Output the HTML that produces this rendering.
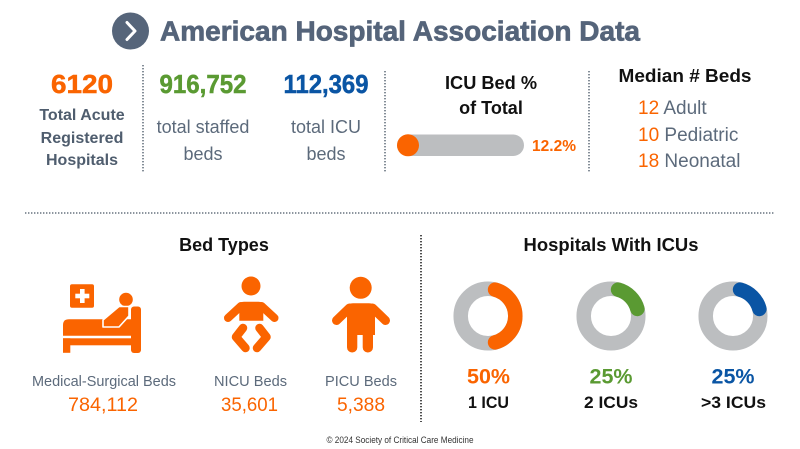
<!DOCTYPE html>
<html>
<head>
<meta charset="utf-8">
<style>
html,body{margin:0;padding:0;background:#fff;}
svg{display:block;}
text{font-family:"Liberation Sans",Arial,sans-serif;}
</style>
</head>
<body>
<svg width="800" height="449" viewBox="0 0 800 449" xmlns="http://www.w3.org/2000/svg">
<rect width="800" height="449" fill="#fff"/>

<!-- Header -->
<circle cx="130.5" cy="31" r="18.5" fill="#56657a"/>
<polyline points="127,22.5 135,31 127,39.5" fill="none" stroke="#fff" stroke-width="3" stroke-linecap="round" stroke-linejoin="round"/>
<text x="160" y="40.5" font-size="28" font-weight="bold" fill="#55647a" stroke="#55647a" stroke-width="0.7" textLength="480" lengthAdjust="spacingAndGlyphs">American Hospital Association Data</text>

<!-- Top stats -->
<text x="82" y="93" font-size="26" font-weight="bold" fill="#fa6400" stroke="#fa6400" stroke-width="0.5" text-anchor="middle" textLength="62" lengthAdjust="spacingAndGlyphs">6120</text>
<g font-size="16" font-weight="bold" fill="#4f5d6e" text-anchor="middle">
<text x="82" y="120">Total Acute</text>
<text x="82" y="143">Registered</text>
<text x="82" y="165">Hospitals</text>
</g>

<line x1="143" y1="65" x2="143" y2="172" stroke="#66727f" stroke-width="1.6" stroke-dasharray="1.4 1.6"/>

<text x="203" y="93" font-size="26" font-weight="bold" fill="#5a9a32" stroke="#5a9a32" stroke-width="0.5" text-anchor="middle" textLength="87" lengthAdjust="spacingAndGlyphs">916,752</text>
<text x="203" y="133" font-size="18" fill="#5c6a7b" text-anchor="middle">total staffed</text>
<text x="203" y="160" font-size="18" fill="#5c6a7b" text-anchor="middle">beds</text>

<text x="326" y="93" font-size="26" font-weight="bold" fill="#0a55a4" stroke="#0a55a4" stroke-width="0.5" text-anchor="middle" textLength="85" lengthAdjust="spacingAndGlyphs">112,369</text>
<text x="326" y="133" font-size="18" fill="#5c6a7b" text-anchor="middle">total ICU</text>
<text x="326" y="160" font-size="18" fill="#5c6a7b" text-anchor="middle">beds</text>

<line x1="385" y1="71" x2="385" y2="172" stroke="#66727f" stroke-width="1.6" stroke-dasharray="1.4 1.6"/>

<text x="491" y="89" font-size="18" font-weight="bold" fill="#111" text-anchor="middle" textLength="92" lengthAdjust="spacingAndGlyphs">ICU Bed %</text>
<text x="491" y="114" font-size="18" font-weight="bold" fill="#111" text-anchor="middle">of Total</text>
<rect x="397" y="134.5" width="127" height="21.5" rx="10.75" fill="#bcbec0"/>
<circle cx="408" cy="145.3" r="11" fill="#fa6400"/>
<text x="532" y="151" font-size="15.5" font-weight="bold" fill="#fa6400" textLength="44" lengthAdjust="spacingAndGlyphs">12.2%</text>

<line x1="589" y1="71" x2="589" y2="172" stroke="#66727f" stroke-width="1.6" stroke-dasharray="1.4 1.6"/>

<text x="685" y="82" font-size="18" font-weight="bold" fill="#111" text-anchor="middle" textLength="133" lengthAdjust="spacingAndGlyphs">Median # Beds</text>
<g font-size="19">
<text x="638" y="114"><tspan fill="#fa6400">12</tspan><tspan fill="#5c6a7b"> Adult</tspan></text>
<text x="638" y="141"><tspan fill="#fa6400">10</tspan><tspan fill="#5c6a7b"> Pediatric</tspan></text>
<text x="638" y="167"><tspan fill="#fa6400">18</tspan><tspan fill="#5c6a7b"> Neonatal</tspan></text>
</g>

<!-- horizontal divider -->
<line x1="25" y1="213" x2="775" y2="213" stroke="#66727f" stroke-width="1.6" stroke-dasharray="1.4 1.6"/>

<!-- Bottom left: Bed Types -->
<text x="224" y="251" font-size="18" font-weight="bold" fill="#111" text-anchor="middle">Bed Types</text>

<!-- Bed icon -->
<g fill="#fa6400">
  <rect x="70" y="284.3" width="24" height="23.5" rx="2"/>
  <rect x="80" y="289" width="4.6" height="14" fill="#fff"/>
  <rect x="75.3" y="293.7" width="14" height="4.6" fill="#fff"/>
  <circle cx="126" cy="299.5" r="6.8"/>
  <rect x="131" y="306.5" width="10" height="46.5" rx="3"/>
  <path d="M63,335.7 L63,325 Q63,319.3 69,319.3 L131,319.3 L131,335.7 Z"/>
  <path d="M103,320 L119,306.5 L129,306.5 L129,316 L119,327 L103,327 Z" stroke="#fff" stroke-width="1.6" stroke-linejoin="round"/>
  <rect x="63" y="338.3" width="78" height="7"/>
  <rect x="63" y="338.3" width="7.3" height="14.5"/>
</g>

<!-- Baby icon -->
<g fill="#fa6400">
  <circle cx="251" cy="286" r="9.5"/>
  <path d="M239.3,320.7 L239.3,306 Q239.3,301.7 244,301.7 L258.5,301.7 Q263.3,301.7 263.3,306 L263.3,320.7 Z"/>
  <line x1="241" y1="306" x2="228" y2="318" stroke="#fa6400" stroke-width="8" stroke-linecap="round"/>
  <line x1="261.5" y1="306" x2="274.5" y2="318" stroke="#fa6400" stroke-width="8" stroke-linecap="round"/>
  <polyline points="243,328 236,337 245.5,348" fill="none" stroke="#fa6400" stroke-width="8.5" stroke-linecap="round" stroke-linejoin="round"/>
  <polyline points="259.5,328 266.5,337 257,348" fill="none" stroke="#fa6400" stroke-width="8.5" stroke-linecap="round" stroke-linejoin="round"/>
</g>

<!-- Child icon -->
<g fill="#fa6400">
  <circle cx="360.7" cy="287.8" r="11"/>
  <path d="M347,335 L347,309 Q347,303.3 353,303.3 L369,303.3 Q375,303.3 375,309 L375,335 Z"/>
  <line x1="349.5" y1="308" x2="336.5" y2="320.5" stroke="#fa6400" stroke-width="9" stroke-linecap="round"/>
  <line x1="372.5" y1="308" x2="385.5" y2="320.5" stroke="#fa6400" stroke-width="9" stroke-linecap="round"/>
  <rect x="347" y="322" width="10.3" height="30.5" rx="5.1"/>
  <rect x="362.7" y="322" width="10.3" height="30.5" rx="5.1"/>
</g>

<g font-size="15" fill="#5c6a7b" text-anchor="middle">
<text x="104" y="386" textLength="144" lengthAdjust="spacingAndGlyphs">Medical-Surgical Beds</text>
<text x="250.5" y="386" textLength="73" lengthAdjust="spacingAndGlyphs">NICU Beds</text>
<text x="361" y="386" textLength="72" lengthAdjust="spacingAndGlyphs">PICU Beds</text>
</g>
<g font-size="19.5" fill="#fa6400" text-anchor="middle">
<text x="103" y="411" textLength="70" lengthAdjust="spacingAndGlyphs">784,112</text>
<text x="249.5" y="411" textLength="57" lengthAdjust="spacingAndGlyphs">35,601</text>
<text x="361" y="411" textLength="48" lengthAdjust="spacingAndGlyphs">5,388</text>
</g>

<!-- bottom vertical divider -->
<line x1="421" y1="235" x2="421" y2="422" stroke="#222" stroke-width="1.6" stroke-dasharray="1.4 1.6"/>

<!-- Hospitals With ICUs -->
<text x="611" y="251" font-size="18" font-weight="bold" fill="#111" text-anchor="middle" textLength="175" lengthAdjust="spacingAndGlyphs">Hospitals With ICUs</text>

<g fill="none" stroke-width="14.5">
  <circle cx="488" cy="316" r="27.3" stroke="#bcbec0"/>
  <path d="M495.07,289.63 A27.3,27.3 0 0 1 495.07,342.37" stroke="#fa6400" stroke-linecap="round"/>
  <circle cx="611" cy="316" r="27.3" stroke="#bcbec0"/>
  <path d="M618.07,289.63 A27.3,27.3 0 0 1 637.37,308.93" stroke="#5a9a32" stroke-linecap="round"/>
  <circle cx="733" cy="316" r="27.3" stroke="#bcbec0"/>
  <path d="M740.07,289.63 A27.3,27.3 0 0 1 759.37,308.93" stroke="#0a55a4" stroke-linecap="round"/>
</g>

<g font-size="21" font-weight="bold" text-anchor="middle">
<text x="488.5" y="383.5" fill="#fa6400" textLength="43" lengthAdjust="spacingAndGlyphs">50%</text>
<text x="611" y="383.5" fill="#5a9a32" textLength="43" lengthAdjust="spacingAndGlyphs">25%</text>
<text x="733" y="383.5" fill="#0a55a4" textLength="43" lengthAdjust="spacingAndGlyphs">25%</text>
</g>
<g font-size="17" font-weight="bold" fill="#111" text-anchor="middle">
<text x="488.5" y="408" textLength="41" lengthAdjust="spacingAndGlyphs">1 ICU</text>
<text x="611" y="408" textLength="54" lengthAdjust="spacingAndGlyphs">2 ICUs</text>
<text x="733.5" y="408" textLength="65" lengthAdjust="spacingAndGlyphs">&gt;3 ICUs</text>
</g>

<!-- Footer -->
<text x="400" y="443" font-size="9.5" fill="#333" text-anchor="middle" textLength="147" lengthAdjust="spacingAndGlyphs">© 2024 Society of Critical Care Medicine</text>
</svg>
</body>
</html>
